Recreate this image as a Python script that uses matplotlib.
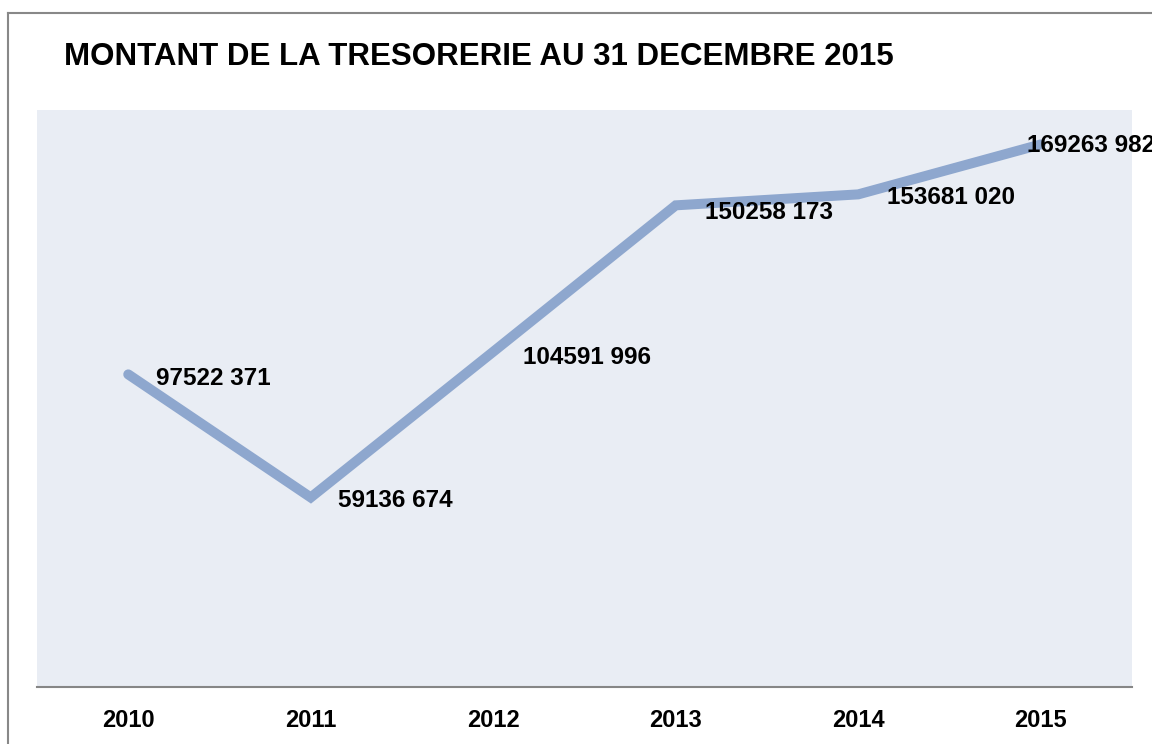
import matplotlib.pyplot as plt
from matplotlib.lines import Line2D

# treasury amount at 31 December each year
years = ['2010', '2011', '2012', '2013', '2014', '2015']
amounts = [97522371, 59136674, 104591996, 150258173, 153681020, 169263982]
labels = ['97522 371', '59136 674', '104591 996', '150258 173', '153681 020', '169263 982']

plt.rcParams['font.family'] = ['Liberation Sans', 'DejaVu Sans']

fig = plt.figure(figsize=(11.52, 7.44), dpi=100)
ax = fig.add_axes([37 / 1152, 1 - 687 / 744, 1095 / 1152, 577 / 744])
ax.set_facecolor('#E9EDF4')

x = range(len(years))
ax.plot(x, amounts, color='#8EA7CE', linewidth=7.2, solid_capstyle='round', solid_joinstyle='miter')

# data labels to the right of each point (offsets in pixels)
offsets = [(28, -4), (27, -3), (30, -6), (29, -7), (29, -3), (-14, -1)]
for i, (val, lab) in enumerate(zip(amounts, labels)):
    dx, dy = offsets[i]
    ax.annotate(lab, (i, val), xytext=(dx * 0.72, dy * 0.72), textcoords='offset points',
                ha='left', va='center', fontsize=17.5, fontweight='bold', color='black',
                annotation_clip=False)

ax.set_xlim(-0.5, 5.5)
ax.set_ylim(0, 180000000)
ax.set_xticks(list(x))
ax.set_xticklabels(years, fontsize=17, fontweight='bold')
ax.set_yticks([])
ax.tick_params(axis='x', length=0, pad=16)
for s in ['top', 'left', 'right']:
    ax.spines[s].set_visible(False)
ax.spines['bottom'].set_color('#868686')
ax.spines['bottom'].set_linewidth(1.5)

fig.text(64 / 1152, 1 - 57 / 744, 'MONTANT DE LA TRESORERIE AU 31 DECEMBRE 2015',
         fontsize=22.5, fontweight='bold', ha='left', va='center')

# outer chart border (left and top edges visible)
fig.add_artist(Line2D([8 / 1152, 8 / 1152], [0, 1 - 13 / 744], transform=fig.transFigure,
                      color='#888888', linewidth=1.5))
fig.add_artist(Line2D([8 / 1152, 1], [1 - 13 / 744, 1 - 13 / 744], transform=fig.transFigure,
                      color='#888888', linewidth=1.5))

fig.savefig('out.png', dpi=100)
